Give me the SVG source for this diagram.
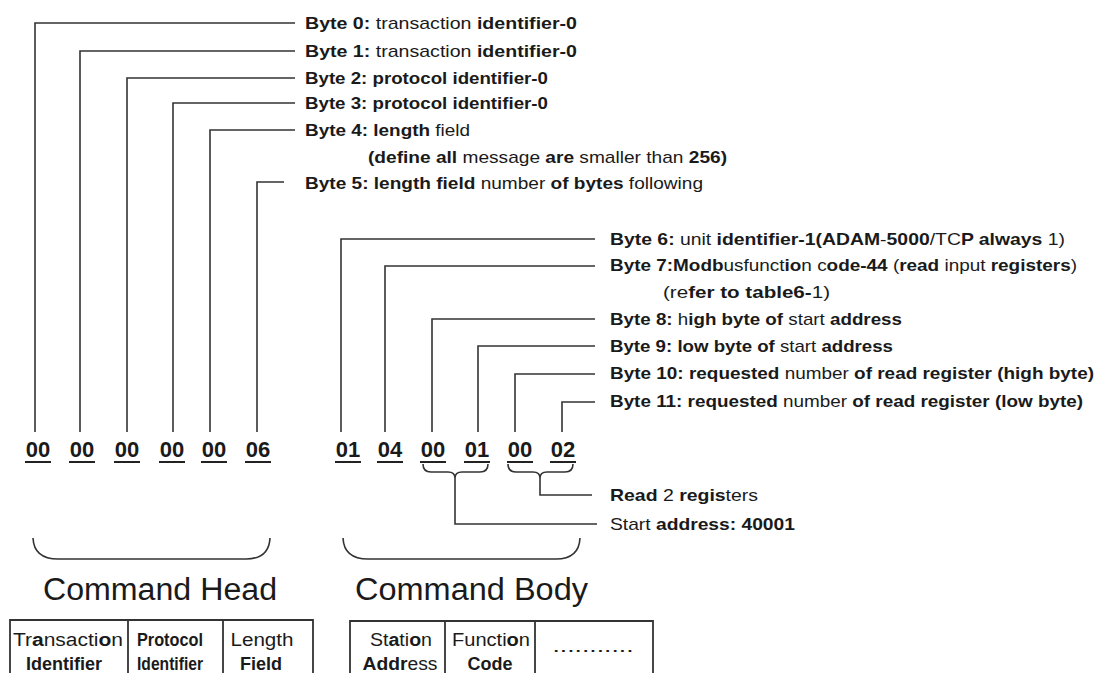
<svg xmlns="http://www.w3.org/2000/svg" width="1095" height="673" viewBox="0 0 1095 673">
<style>
  .ln{fill:none;stroke:#333;stroke-width:1.6;}
  .ul{stroke:#222;stroke-width:2;}
  .lb{font-family:"Liberation Sans",Arial,sans-serif;font-size:17px;fill:#1a1a1a;}
  .b{font-weight:bold;}
  .num{font-family:"Liberation Sans",Arial,sans-serif;font-size:22px;font-weight:bold;fill:#1a1a1a;text-anchor:middle;}
  .title{font-family:"Liberation Sans",Arial,sans-serif;font-size:31px;fill:#1a1a1a;}
  .cell{font-family:"Liberation Sans",Arial,sans-serif;font-size:18px;fill:#1a1a1a;text-anchor:middle;}
  .tb{fill:none;stroke:#333;stroke-width:1.8;}
</style>
<rect width="1095" height="673" fill="#fff"/>

<g id="connectors">
  <path class="ln" d="M35,432 V23 H295"/>
  <path class="ln" d="M80,432 V51 H295"/>
  <path class="ln" d="M127,432 V78 H295"/>
  <path class="ln" d="M173,432 V103 H295"/>
  <path class="ln" d="M210,432 V130 H295"/>
  <path class="ln" d="M257,432 V182 H284"/>
  <path class="ln" d="M341,432 V239 H595"/>
  <path class="ln" d="M385,432 V266 H595"/>
  <path class="ln" d="M432,432 V319 H595"/>
  <path class="ln" d="M478,432 V346 H595"/>
  <path class="ln" d="M515,432 V374 H595"/>
  <path class="ln" d="M562,432 V402 H595"/>
  <path class="ln" d="M423,464 Q423,472 431,472 L448,472 Q455,472 455,478 Q455,472 462,472 L480,472 Q488,472 488,464"/>
  <path class="ln" d="M455,478 V524 H597"/>
  <path class="ln" d="M508,464 Q508,472 516,472 L533,472 Q540,472 540,478 Q540,472 547,472 L565,472 Q573,472 573,464"/>
  <path class="ln" d="M540,478 V495 H592"/>
  <path class="ln" d="M33,538 Q34,559 58,559 L246,559 Q269,559 270,538"/>
  <path class="ln" d="M343,538 Q344,559 368,559 L556,559 Q579,559 580,538"/>
</g>

<g id="head-labels">
  <text class="lb" x="305" y="29" textLength="272" lengthAdjust="spacingAndGlyphs"><tspan class="b">Byte 0:</tspan> transaction <tspan class="b">identifier-0</tspan></text>
  <text class="lb" x="305" y="57" textLength="272" lengthAdjust="spacingAndGlyphs"><tspan class="b">Byte 1:</tspan> transaction <tspan class="b">identifier-0</tspan></text>
  <text class="lb" x="305" y="84" textLength="243" lengthAdjust="spacingAndGlyphs"><tspan class="b">Byte 2: protocol identifier-0</tspan></text>
  <text class="lb" x="305" y="109" textLength="243" lengthAdjust="spacingAndGlyphs"><tspan class="b">Byte 3: protocol identifier-0</tspan></text>
  <text class="lb" x="305" y="136" textLength="165" lengthAdjust="spacingAndGlyphs"><tspan class="b">Byte 4: length</tspan> field</text>
  <text class="lb" x="368" y="163" textLength="359" lengthAdjust="spacingAndGlyphs"><tspan class="b">(define all</tspan> message <tspan class="b">are</tspan> smaller than <tspan class="b">256)</tspan></text>
  <text class="lb" x="305" y="189" textLength="398" lengthAdjust="spacingAndGlyphs"><tspan class="b">Byte 5: length field</tspan> number <tspan class="b">of bytes</tspan> following</text>
</g>

<g id="body-labels">
  <text class="lb" x="610" y="245" textLength="455" lengthAdjust="spacingAndGlyphs"><tspan class="b">Byte 6:</tspan> unit <tspan class="b">identifier-1(ADAM</tspan>-<tspan class="b">5000</tspan>/TC<tspan class="b">P always</tspan> 1)</text>
  <text class="lb" x="610" y="271" textLength="467" lengthAdjust="spacingAndGlyphs"><tspan class="b">Byte 7:Modb</tspan>usfunct<tspan class="b">io</tspan>n c<tspan class="b">ode-44</tspan> (<tspan class="b">read</tspan> input <tspan class="b">registers</tspan>)</text>
  <text class="lb" x="663" y="298" textLength="167" lengthAdjust="spacingAndGlyphs">(re<tspan class="b">fer to table6-</tspan>1)</text>
  <text class="lb" x="610" y="325" textLength="292" lengthAdjust="spacingAndGlyphs"><tspan class="b">Byte 8:</tspan> h<tspan class="b">igh byte of</tspan> start <tspan class="b">address</tspan></text>
  <text class="lb" x="610" y="352" textLength="283" lengthAdjust="spacingAndGlyphs"><tspan class="b">Byte 9: low byte of</tspan> start <tspan class="b">address</tspan></text>
  <text class="lb" x="610" y="379" textLength="484" lengthAdjust="spacingAndGlyphs"><tspan class="b">Byte 10: requested</tspan> number <tspan class="b">of read register (high byte)</tspan></text>
  <text class="lb" x="610" y="407" textLength="473" lengthAdjust="spacingAndGlyphs"><tspan class="b">Byte 11: requested</tspan> number <tspan class="b">of read register (low byte)</tspan></text>
  <text class="lb" x="610" y="501" textLength="148" lengthAdjust="spacingAndGlyphs"><tspan class="b">Read</tspan> 2 <tspan class="b">regis</tspan>ters</text>
  <text class="lb" x="610" y="530" textLength="185" lengthAdjust="spacingAndGlyphs">Start <tspan class="b">address: 40001</tspan></text>
</g>

<g id="bytes">
  <text class="num" x="38" y="457">00</text>
  <text class="num" x="82" y="457">00</text>
  <text class="num" x="127" y="457">00</text>
  <text class="num" x="172" y="457">00</text>
  <text class="num" x="214" y="457">00</text>
  <text class="num" x="258" y="457">06</text>
  <text class="num" x="348" y="457">01</text>
  <text class="num" x="390" y="457">04</text>
  <text class="num" x="433" y="457">00</text>
  <text class="num" x="477" y="457">01</text>
  <text class="num" x="520" y="457">00</text>
  <text class="num" x="563" y="457">02</text>
  <path class="ul" d="M25,462 h26 M69,462 h26 M114,462 h26 M159,462 h26 M201,462 h26 M245,462 h26 M335,462 h26 M377,462 h26 M420,462 h26 M464,462 h26 M507,462 h26 M550,462 h26"/>
</g>

<g id="command-head">
  <text class="title" x="43" y="600" textLength="234" lengthAdjust="spacingAndGlyphs">Command Head</text>
  <path class="tb" d="M10,673 V620 H313 V673 M128,620 V673 M223,620 V673"/>
  <text class="cell" x="68" y="646" textLength="110" lengthAdjust="spacingAndGlyphs">Tr<tspan font-weight="bold">a</tspan>nsacti<tspan font-weight="bold">o</tspan>n</text>
  <text class="cell" x="64" y="670" textLength="76" lengthAdjust="spacingAndGlyphs" font-weight="bold">Identifier</text>
  <text class="cell" x="170" y="646" textLength="66" lengthAdjust="spacingAndGlyphs" font-weight="bold">Protocol</text>
  <text class="cell" x="170" y="670" textLength="66" lengthAdjust="spacingAndGlyphs" font-weight="bold">Identifier</text>
  <text class="cell" x="262" y="646" textLength="63" lengthAdjust="spacingAndGlyphs">Length</text>
  <text class="cell" x="261" y="670" textLength="42" lengthAdjust="spacingAndGlyphs" font-weight="bold">Field</text>
</g>

<g id="command-body">
  <text class="title" x="355" y="600" textLength="233" lengthAdjust="spacingAndGlyphs">Command Body</text>
  <path class="tb" d="M350,673 V621 H653 V673 M445,621 V673 M535,621 V673"/>
  <text class="cell" x="401" y="646" textLength="62" lengthAdjust="spacingAndGlyphs">St<tspan font-weight="bold">a</tspan>ti<tspan font-weight="bold">o</tspan>n</text>
  <text class="cell" x="400" y="670" textLength="75" lengthAdjust="spacingAndGlyphs"><tspan font-weight="bold">Addr</tspan>ess</text>
  <text class="cell" x="491" y="646" textLength="78" lengthAdjust="spacingAndGlyphs">Functi<tspan font-weight="bold">o</tspan>n</text>
  <text class="cell" x="490" y="670" textLength="45" lengthAdjust="spacingAndGlyphs" font-weight="bold">Code</text>
  <text class="cell" x="593" y="652" textLength="81" lengthAdjust="spacingAndGlyphs">...........</text>
</g>
</svg>
